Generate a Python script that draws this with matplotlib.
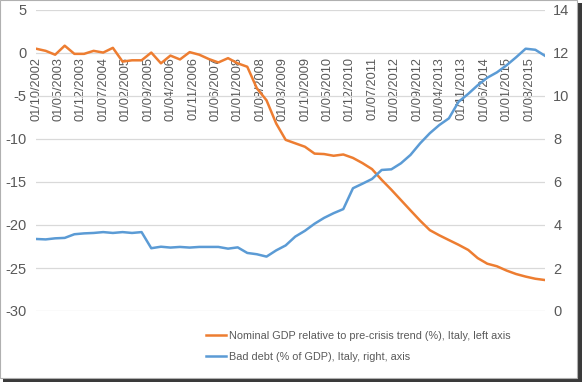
import matplotlib
matplotlib.use('Agg')
import matplotlib.pyplot as plt
from matplotlib.patches import Rectangle
from matplotlib.lines import Line2D
import pandas as pd

# quarterly observations, Q3 2002 - Q4 2015
dates = pd.date_range('2002-09-30', '2015-12-31', freq='QE')

gdp_gap = [0.5, 0.25, -0.2, 0.85, -0.1, -0.1, 0.25, 0.05, 0.6, -1.0,
           -0.85, -0.85, 0.05, -1.2, -0.3, -0.75, 0.1, -0.2, -0.7, -1.1,
           -0.6, -1.2, -1.6, -4.1, -5.5, -8.2, -10.1, -10.5, -10.9, -11.7,
           -11.75, -11.95, -11.8, -12.2, -12.8, -13.5, -14.75, -15.9, -17.1, -18.3,
           -19.5, -20.6, -21.2, -21.75, -22.3, -22.9, -23.85, -24.5, -24.8, -25.3,
           -25.7, -26.0, -26.25, -26.4]

bad_debt = [3.35, 3.33, 3.38, 3.4, 3.57, 3.61, 3.63, 3.67, 3.63, 3.67,
            3.63, 3.67, 2.92, 2.99, 2.95, 2.98, 2.95, 2.98, 2.98, 2.98,
            2.9, 2.96, 2.7, 2.64, 2.53, 2.82, 3.05, 3.46, 3.73, 4.06,
            4.33, 4.55, 4.74, 5.71, 5.92, 6.14, 6.56, 6.59, 6.87, 7.26,
            7.8, 8.27, 8.65, 8.96, 9.73, 10.1, 10.5, 10.85, 11.1, 11.43,
            11.8, 12.2, 12.15, 11.87]

tick_labels = ['01/10/2002', '01/05/2003', '01/12/2003', '01/07/2004', '01/02/2005',
               '01/09/2005', '01/04/2006', '01/11/2006', '01/06/2007', '01/01/2008',
               '01/08/2008', '01/03/2009', '01/10/2009', '01/05/2010', '01/12/2010',
               '01/07/2011', '01/02/2012', '01/09/2012', '01/04/2013', '01/11/2013',
               '01/06/2014', '01/01/2015', '01/08/2015']

gdp_label = 'Nominal GDP relative to pre-crisis trend (%), Italy, left axis'
debt_label = 'Bad debt (% of GDP), Italy, right, axis'

orange = '#ED7D31'
blue = '#5B9BD5'
grey = '#595959'

plt.rcParams['font.family'] = ['Liberation Sans', 'DejaVu Sans']
plt.rcParams['axes.unicode_minus'] = False

fig = plt.figure(figsize=(5.83, 3.83), dpi=100)

# frame with drop shadow
fig.patches.append(Rectangle((3/583, 1/383), 579/583, 379/383, transform=fig.transFigure,
                             facecolor='#3a3a3a', edgecolor='none', zorder=-3))
fig.patches.append(Rectangle((0, 5/383), 577/583, 378/383, transform=fig.transFigure,
                             facecolor='white', edgecolor='#b0b0b0', lw=0.8, zorder=-2))

ax1 = fig.add_axes([36/583, 1 - 311/383, 509/583, 301/383])
ax1.patch.set_alpha(0)
ax2 = ax1.twinx()

ax1.plot(dates, gdp_gap, color=orange, lw=1.8, zorder=3)
ax2.plot(dates, bad_debt, color=blue, lw=1.8, zorder=3)

ax1.set_xlim(dates[0], dates[-1])
ax1.set_ylim(-30, 5)
ax1.set_yticks(range(-30, 6, 5))
ax2.set_ylim(0, 14)
ax2.set_yticks(range(0, 15, 2))

ax1.yaxis.grid(True, color='#d9d9d9', lw=0.9)
ax1.set_axisbelow(True)

ticks = pd.to_datetime(tick_labels, dayfirst=True)
ax1.set_xticks(ticks)
ax1.set_xticklabels(tick_labels)
ax1.spines['bottom'].set_position(('data', 0))

for ax in (ax1, ax2):
    for s in ax.spines.values():
        s.set_visible(False)
    ax.tick_params(length=0, labelsize=10.5, colors=grey)
ax1.tick_params(axis='y', pad=7)
ax1.tick_params(axis='x', pad=3, labelrotation=90, labelsize=9.2)
ax2.tick_params(axis='y', pad=6)

handles = [Line2D([], [], color=orange, lw=1.8), Line2D([], [], color=blue, lw=1.8)]
leg = fig.legend(handles, [gdp_label, debt_label], loc='upper left',
                 bbox_to_anchor=(206/583, 1 - 331/383), frameon=False,
                 fontsize=7.8, handlelength=1.8, handletextpad=0.3, labelspacing=1.0,
                 borderaxespad=0, borderpad=0)
for t in leg.get_texts():
    t.set_color(grey)

fig.savefig('out.png', dpi=100)
